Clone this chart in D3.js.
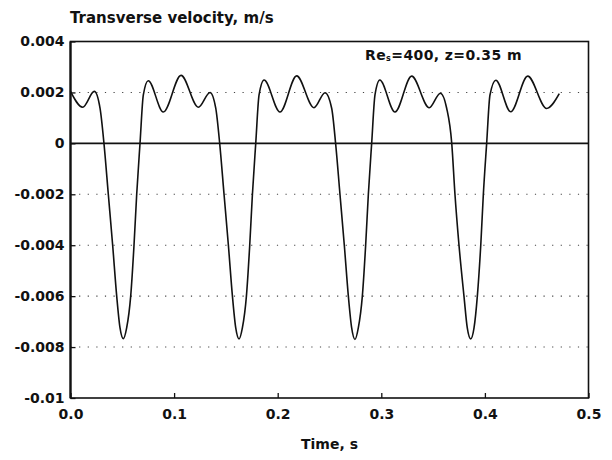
<!DOCTYPE html>
<html>
<head>
<meta charset="utf-8">
<script src="https://cdn.jsdelivr.net/npm/d3@7"></script>
<style>
  body { margin: 0; background: #fff; }
  svg text { font-family: "DejaVu Sans", sans-serif; font-weight: bold; fill: #111; }
</style>
</head>
<body>
<svg id="chart" width="612" height="460"></svg>
<script>
// values: time (s) and transverse velocity (m/s)
const times = [
  0.000, 0.0118, 0.0230, 0.0285, 0.0323, 0.0365, 0.0407, 0.0446, 0.0478, 0.0510,
  0.0542, 0.0581, 0.0613, 0.0639, 0.0671, 0.0703, 0.0750, 0.0896, 0.1067, 0.1234, 0.1347,
  0.1402, 0.1440, 0.1482, 0.1524, 0.1563, 0.1595, 0.1627, 0.1659, 0.1698, 0.1730,
  0.1756, 0.1788, 0.1820, 0.1868, 0.2022, 0.2183, 0.2350, 0.2457,
  0.2521, 0.2559, 0.2601, 0.2643, 0.2682, 0.2714, 0.2746, 0.2778, 0.2817, 0.2849,
  0.2875, 0.2907, 0.2939, 0.2985, 0.3132, 0.3293, 0.3463, 0.3570,
  0.3631, 0.3680, 0.3711, 0.3750, 0.3798, 0.3830, 0.3863, 0.3895, 0.3927, 0.3960,
  0.3985, 0.4017, 0.4049, 0.4105, 0.4249, 0.4413, 0.4596, 0.4718
];
const velocity = [
  0.00204, 0.00142, 0.00204, 0.00138, 0, -0.002, -0.004, -0.006, -0.00725, -0.00767,
  -0.00725, -0.006, -0.004, -0.002, 0, 0.0019, 0.00246, 0.00123, 0.00267, 0.00142, 0.00200,
  0.00138, 0, -0.002, -0.004, -0.006, -0.00725, -0.00768, -0.00725, -0.006, -0.004,
  -0.002, 0, 0.0019, 0.00249, 0.00123, 0.00265, 0.00140, 0.00199,
  0.00138, 0, -0.002, -0.004, -0.006, -0.00725, -0.00770, -0.00725, -0.006, -0.004,
  -0.002, 0, 0.0019, 0.00249, 0.00123, 0.00264, 0.00140, 0.00197,
  0.00138, 0, -0.002, -0.004, -0.006, -0.00725, -0.00768, -0.00725, -0.006, -0.004,
  -0.002, 0, 0.0019, 0.00248, 0.00124, 0.00264, 0.00137, 0.00195
];

const xTicks = [0, 0.1, 0.2, 0.3, 0.4, 0.5];
const xTickLabels = ["0.0", "0.1", "0.2", "0.3", "0.4", "0.5"];
const yTicks = [0.004, 0.002, 0, -0.002, -0.004, -0.006, -0.008, -0.01];
const yTickLabels = ["0.004", "0.002", "0", "-0.002", "-0.004", "-0.006", "-0.008", "-0.01"];
const gridLevels = [0.002, -0.002, -0.004, -0.006, -0.008];

const svg = d3.select("#chart");
const plotLeft = 70.5, plotRight = 588.5, plotTop = 41.5, plotBottom = 398;

const x = d3.scaleLinear().domain([0, 0.5]).range([plotLeft, plotRight]);
const y = d3.scaleLinear().domain([-0.01, 0.004]).range([plotBottom, plotTop]);

// dotted grid
svg.append("g").selectAll("line").data(gridLevels)
  .join("line")
  .attr("x1", plotLeft).attr("x2", plotRight)
  .attr("y1", d => y(d)).attr("y2", d => y(d))
  .attr("stroke", "#444")
  .attr("stroke-width", 1.1)
  .attr("stroke-dasharray", "1.2,7.4");

// zero line
svg.append("line")
  .attr("x1", plotLeft).attr("x2", plotRight)
  .attr("y1", y(0)).attr("y2", y(0))
  .attr("stroke", "#111")
  .attr("stroke-width", 1.8);

// axes
const xAxis = svg.append("g")
  .attr("transform", "translate(0," + plotBottom + ")")
  .call(d3.axisBottom(x).tickValues(xTicks)
    .tickFormat((d, i) => xTickLabels[i])
    .tickSize(-5).tickPadding(11));
xAxis.select(".domain").remove();
xAxis.selectAll("text").attr("font-size", 14);
xAxis.selectAll("line").attr("stroke", "#111").attr("stroke-width", 1.3);

const yAxis = svg.append("g")
  .attr("transform", "translate(" + plotLeft + ",0)")
  .call(d3.axisLeft(y).tickValues(yTicks)
    .tickFormat((d, i) => yTickLabels[i])
    .tickSize(-5).tickPadding(6));
yAxis.select(".domain").remove();
yAxis.selectAll("text").attr("font-size", 14);
yAxis.selectAll("line").attr("stroke", "#111").attr("stroke-width", 1.3);

// frame
svg.append("rect")
  .attr("x", plotLeft).attr("y", plotTop)
  .attr("width", plotRight - plotLeft).attr("height", plotBottom - plotTop)
  .attr("fill", "none")
  .attr("stroke", "#111")
  .attr("stroke-width", 1.6);
svg.append("line")
  .attr("x1", plotLeft).attr("x2", plotLeft)
  .attr("y1", plotTop).attr("y2", plotBottom)
  .attr("stroke", "#111").attr("stroke-width", 2.2);

// curve
const points = times.map((t, i) => [t, velocity[i]]);
const line = d3.line()
  .x(d => x(d[0]))
  .y(d => y(d[1]))
  .curve(d3.curveMonotoneX);

svg.append("path")
  .datum(points)
  .attr("d", line)
  .attr("fill", "none")
  .attr("stroke", "#111")
  .attr("stroke-width", 1.6);

// titles
svg.append("text")
  .attr("x", 70).attr("y", 23)
  .attr("font-size", 15)
  .text("Transverse velocity, m/s");

svg.append("text")
  .attr("x", x(0.25)).attr("y", 449)
  .attr("text-anchor", "middle")
  .attr("font-size", 14)
  .text("Time, s");

const label = svg.append("text")
  .attr("x", 365).attr("y", 60)
  .attr("font-size", 14)
  .attr("letter-spacing", 0.4);
label.append("tspan").text("Re");
label.append("tspan").attr("font-size", 8).attr("dy", 1).text("s");
label.append("tspan").attr("dy", -1).text("=400, z=0.35 m");
</script>
</body>
</html>
